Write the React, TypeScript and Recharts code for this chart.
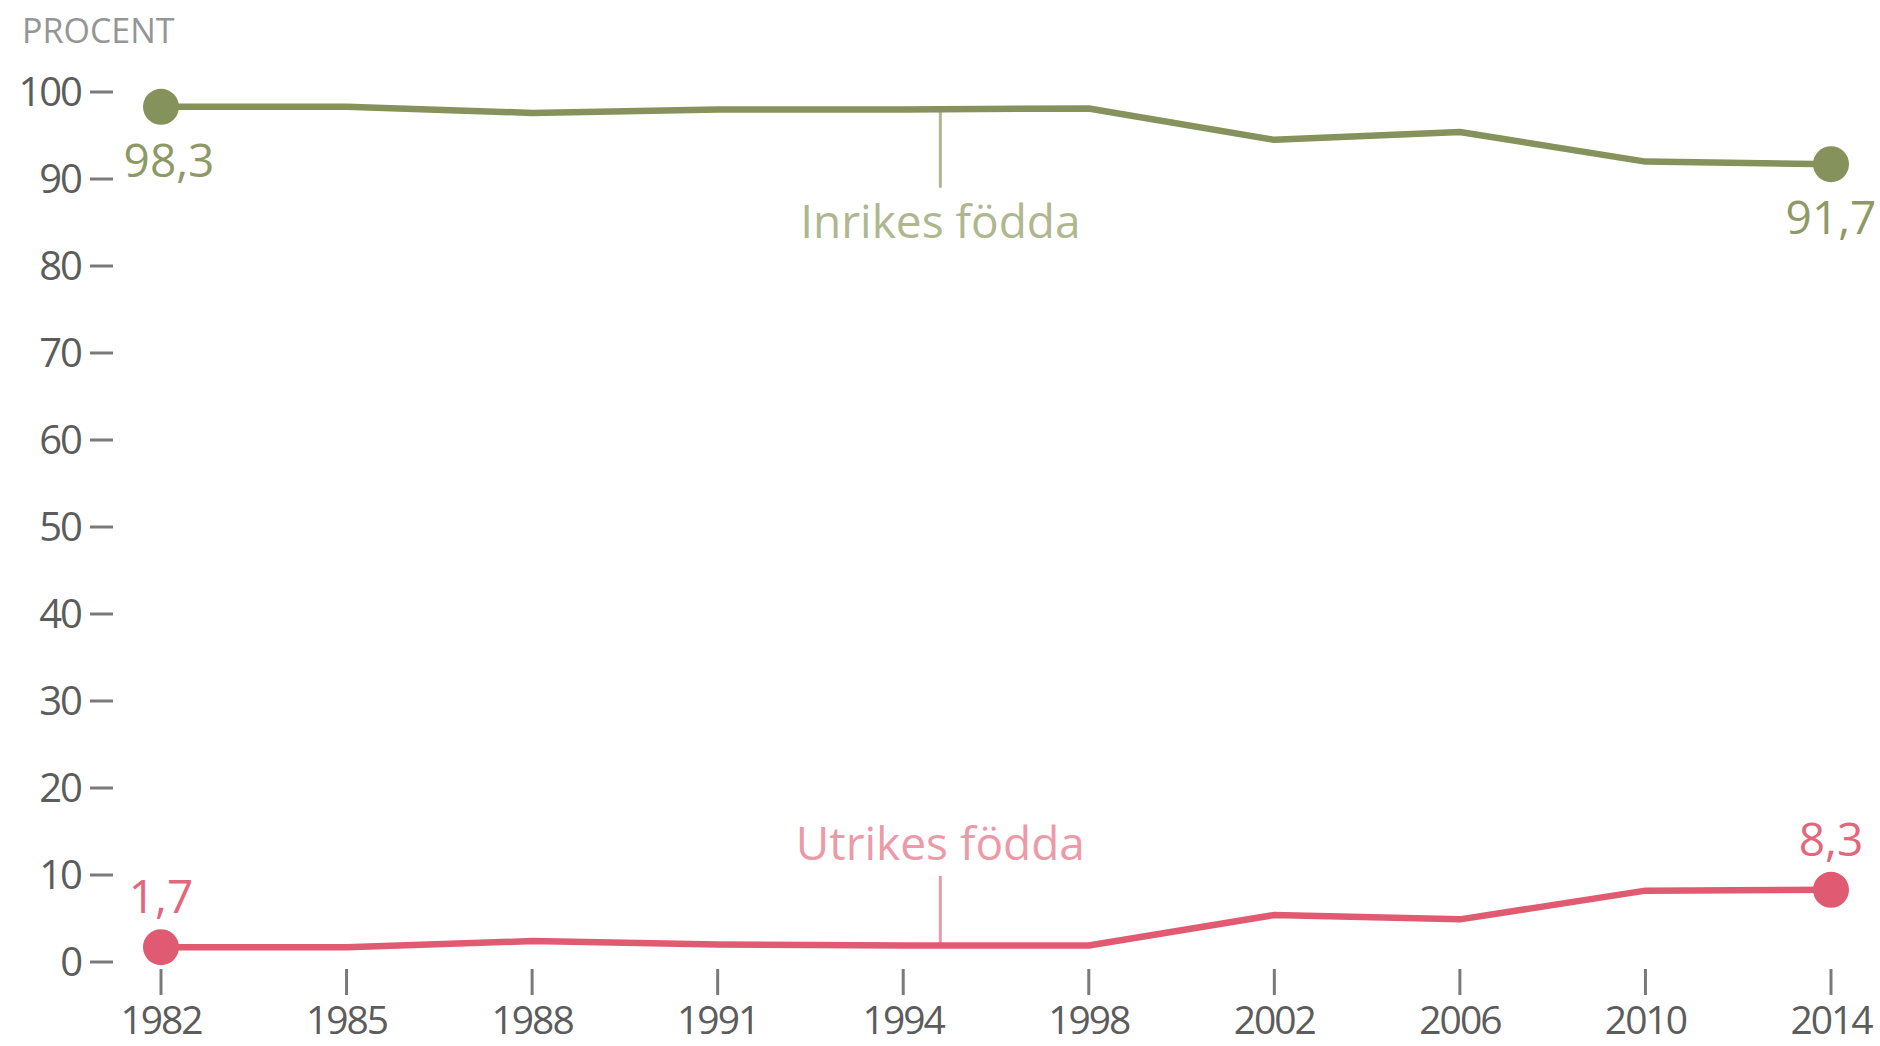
import { LineChart, Line, XAxis, YAxis, ReferenceLine, LabelList } from 'recharts';

const YEARS = ['1982', '1985', '1988', '1991', '1994', '1998', '2002', '2006', '2010', '2014'];
const INRIKES = [98.3, 98.3, 97.6, 98.0, 98.0, 98.1, 94.5, 95.4, 92.0, 91.7];
const UTRIKES = [1.7, 1.7, 2.4, 2.0, 1.9, 1.9, 5.4, 4.9, 8.2, 8.3];
const Y_TICKS = [0, 10, 20, 30, 40, 50, 60, 70, 80, 90, 100];
const X_TICKS = YEARS.map((_, i) => i);

const GREEN = '#85925b';
const GREEN_LIGHT = '#aeb78f';
const RED = '#e05b71';
const RED_LIGHT = '#ec9aa8';
const FONT = "'Open Sans', sans-serif";

const data = YEARS.map((year, idx) => ({
  idx,
  year,
  inrikes: INRIKES[idx],
  utrikes: UTRIKES[idx],
}));

const fmt = (v: number) => String(v.toFixed(1)).replace('.', ',');

function YTick(props: any) {
  const { x, y, payload } = props;
  return (
    <g>
      <text x={x - 80} y={y + 14} textAnchor="end" fill="#5c5c5c" fontSize={40} letterSpacing={-2} fontFamily={FONT}>
        {payload.value}
      </text>
      <line x1={x - 71} x2={x - 48} y1={y} y2={y} stroke="#7a7a7a" strokeWidth={3} />
    </g>
  );
}

function XTick(props: any) {
  const { x, y, payload } = props;
  return (
    <g>
      <line x1={x} x2={x} y1={y + 7} y2={y + 33} stroke="#7a7a7a" strokeWidth={3} />
      <text x={x} y={y + 72} textAnchor="middle" fill="#5c5c5c" fontSize={39} letterSpacing={-2} fontFamily={FONT}>
        {YEARS[payload.value]}
      </text>
    </g>
  );
}

function EndDot(props: any) {
  const { cx, cy, index, stroke } = props;
  if (index !== 0 && index !== YEARS.length - 1) return <g key={index} />;
  return <circle key={index} cx={cx} cy={cy} r={18} fill={stroke} />;
}

function makeValueLabel(color: string, below: boolean) {
  return (props: any) => {
    const { x, y, value, index } = props;
    if (index !== 0 && index !== YEARS.length - 1) return null;
    const dx = below && index === 0 ? 8 : 0;
    return (
      <text x={x + dx} y={below ? y + 70 : y - 34} textAnchor="middle" fill={color} fontSize={46} fontFamily={FONT}>
        {fmt(value)}
      </text>
    );
  };
}

function AnnoLabel(props: any) {
  const { viewBox, text, color, below } = props;
  const cx = viewBox.x + (viewBox.width || 0) / 2;
  const ty = below ? viewBox.y + viewBox.height + 50 : viewBox.y - 16;
  return (
    <text x={cx} y={ty} textAnchor="middle" fill={color} fontSize={46} fontFamily={FONT}>
      {text}
    </text>
  );
}

export default function App() {
  return (
    <div style={{ position: 'absolute', left: 0, top: 0, background: '#fff' }}>
      <div style={{ position: 'absolute', left: 22, top: 8, fontFamily: FONT, fontSize: 34, color: '#959595', lineHeight: '44px' }}>
        PROCENT
      </div>
      <LineChart width={1880} height={1046} data={data} margin={{ top: 92, right: 49, bottom: 0, left: 0 }}>
        <YAxis
          type="number"
          domain={[0, 100]}
          ticks={Y_TICKS}
          width={161}
          axisLine={false}
          tickLine={false}
          tickSize={0}
          tickMargin={0}
          tick={<YTick />}
          interval={0}
        />
        <XAxis
          type="number"
          dataKey="idx"
          domain={[0, 9]}
          ticks={X_TICKS}
          height={84}
          axisLine={false}
          tickLine={false}
          tickSize={0}
          tickMargin={0}
          tick={<XTick />}
          interval={0}
        />
        <ReferenceLine
          segment={[{ x: 4.2, y: 98.0 }, { x: 4.2, y: 89.0 }]}
          stroke={GREEN_LIGHT}
          strokeWidth={3}
          label={<AnnoLabel text="Inrikes födda" color={GREEN_LIGHT} below />}
        />
        <ReferenceLine
          segment={[{ x: 4.2, y: 9.9 }, { x: 4.2, y: 1.9 }]}
          stroke={RED_LIGHT}
          strokeWidth={3}
          label={<AnnoLabel text="Utrikes födda" color={RED_LIGHT} />}
        />
        <Line
          dataKey="inrikes"
          type="linear"
          stroke={GREEN}
          strokeWidth={6.5}
          strokeLinejoin="round"
          dot={<EndDot />}
          activeDot={false}
          isAnimationActive={false}
        >
          <LabelList dataKey="inrikes" content={makeValueLabel('#8e9966', true)} />
        </Line>
        <Line
          dataKey="utrikes"
          type="linear"
          stroke={RED}
          strokeWidth={6.5}
          strokeLinejoin="round"
          dot={<EndDot />}
          activeDot={false}
          isAnimationActive={false}
        >
          <LabelList dataKey="utrikes" content={makeValueLabel('#e3677c', false)} />
        </Line>
      </LineChart>
    </div>
  );
}
